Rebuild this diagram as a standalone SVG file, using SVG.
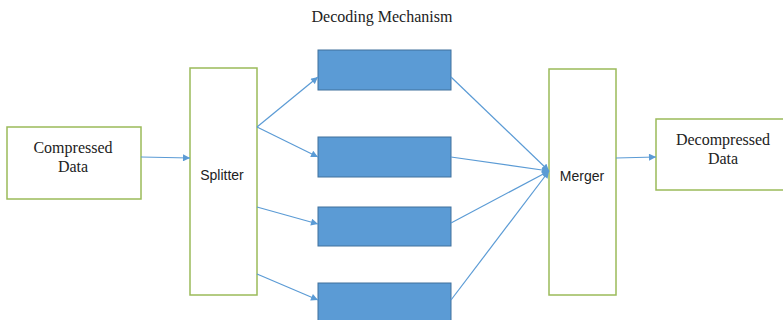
<svg xmlns="http://www.w3.org/2000/svg" width="783" height="320" viewBox="0 0 783 320">
  <style>
    .io { fill: #ffffff; stroke: #9bbb59; stroke-width: 1.5; }
    .proc { fill: #5b9bd5; stroke: #41719c; stroke-width: 1; }
    .serif { font-family: "Liberation Serif", "Times New Roman", serif; font-size: 16px; fill: #222; text-anchor: middle; }
    .sans { font-family: "Liberation Sans", Arial, sans-serif; font-size: 14px; fill: #222; text-anchor: middle; }
    .link { stroke: #5b9bd5; stroke-width: 1.2; fill: none; marker-end: url(#arrow); }
  </style>
  <defs>
    <marker id="arrow" viewBox="0 0 10 10" refX="10" refY="5" markerWidth="8" markerHeight="7" markerUnits="userSpaceOnUse" orient="auto">
      <path d="M0,0 L10,5 L0,10 z" fill="#5b9bd5"/>
    </marker>
  </defs>
  <rect width="783" height="320" fill="#ffffff"/>

  <text class="serif" x="382" y="22">Decoding Mechanism</text>

  <g id="compressed">
    <rect class="io" x="7" y="127" width="134" height="72"/>
    <text class="serif" x="73" y="153">Compressed</text>
    <text class="serif" x="73" y="172">Data</text>
  </g>

  <g id="splitter">
    <rect class="io" x="190" y="68" width="67" height="227"/>
    <text class="sans" x="222" y="180">Splitter</text>
  </g>

  <g id="decoder1"><rect class="proc" x="318" y="50" width="133" height="40"/></g>
  <g id="decoder2"><rect class="proc" x="318" y="137" width="133" height="40"/></g>
  <g id="decoder3"><rect class="proc" x="318" y="207" width="133" height="39"/></g>
  <g id="decoder4"><rect class="proc" x="318" y="283" width="133" height="40"/></g>

  <g id="merger">
    <rect class="io" x="549" y="69" width="67" height="226"/>
    <text class="sans" x="582" y="181">Merger</text>
  </g>

  <g id="decompressed">
    <rect class="io" x="656" y="119" width="130" height="71"/>
    <text class="serif" x="723" y="145">Decompressed</text>
    <text class="serif" x="723" y="164">Data</text>
  </g>

  <g id="connectors">
    <line class="link" x1="141" y1="157" x2="190" y2="158"/>
    <line class="link" x1="257" y1="127" x2="318" y2="77"/>
    <line class="link" x1="257" y1="127" x2="318" y2="157"/>
    <line class="link" x1="257" y1="207" x2="318" y2="224"/>
    <line class="link" x1="257" y1="274" x2="318" y2="300"/>
    <line class="link" x1="451" y1="77" x2="549" y2="171"/>
    <line class="link" x1="451" y1="157" x2="549" y2="171"/>
    <line class="link" x1="451" y1="223" x2="549" y2="171"/>
    <line class="link" x1="451" y1="300" x2="549" y2="171"/>
    <line class="link" x1="616" y1="158" x2="656" y2="157"/>
  </g>
</svg>
